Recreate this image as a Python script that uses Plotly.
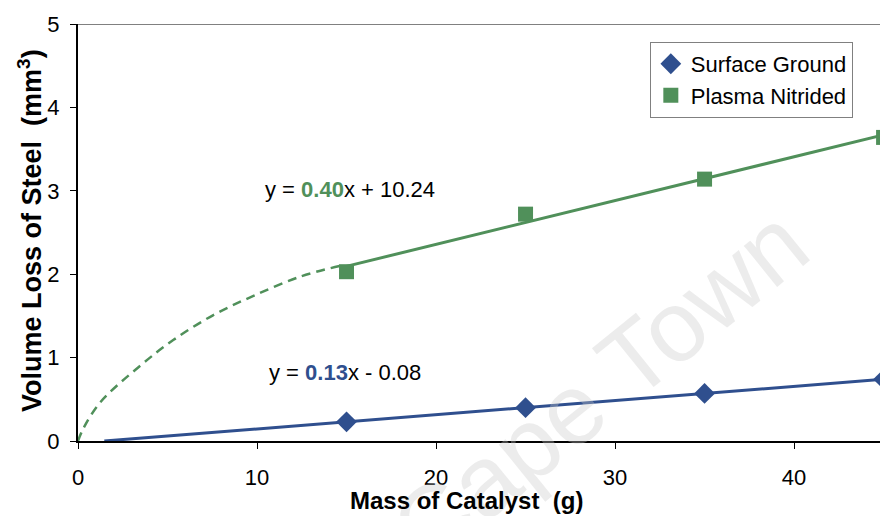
import numpy as np
import plotly.graph_objects as go

# Measured wear data
mass_g = [15, 25, 35, 45]
surface_ground = [0.23, 0.40, 0.57, 0.74]
plasma_nitrided = [2.03, 2.72, 3.14, 3.64]

# Hand-sketched extrapolation of the nitrided curve toward the origin
extrap_x = [0, 0.3, 1.23, 3.46, 5.32, 7.56, 9.8, 12.4, 14.64]
extrap_y = [0, 0.15, 0.46, 0.90, 1.21, 1.51, 1.74, 1.97, 2.10]

x_ticks = [0, 10, 20, 30, 40]
y_ticks = [0, 1, 2, 3, 4, 5]

GREEN = "#50905A"
BLUE = "#2F4F8E"
FONT = "Arial, Liberation Sans, sans-serif"

# Linear trend lines
g_slope, g_int = np.polyfit(mass_g, plasma_nitrided, 1)
b_slope, b_int = np.polyfit(mass_g, surface_ground, 1)
g_x = np.array([extrap_x[-1], mass_g[-1]])
b_x = np.array([-b_int / b_slope, mass_g[-1]])

fig = go.Figure()

fig.add_trace(go.Scatter(x=extrap_x, y=extrap_y, mode="lines",
                         line=dict(color=GREEN, width=2.5, dash="9px,6px", shape="spline", smoothing=1.0),
                         showlegend=False, hoverinfo="skip"))
fig.add_trace(go.Scatter(x=g_x, y=g_slope * g_x + g_int, mode="lines",
                         line=dict(color=GREEN, width=3), showlegend=False, hoverinfo="skip"))
fig.add_trace(go.Scatter(x=b_x, y=b_slope * b_x + b_int, mode="lines",
                         line=dict(color=BLUE, width=3), showlegend=False, hoverinfo="skip"))

fig.add_trace(go.Scatter(x=mass_g, y=surface_ground, mode="markers", name="Surface Ground",
                         marker=dict(symbol="diamond", size=16, color=BLUE)))
fig.add_trace(go.Scatter(x=mass_g, y=plasma_nitrided, mode="markers", name="Plasma Nitrided",
                         marker=dict(symbol="square", size=15, color=GREEN)))

fig.add_shape(type="line", xref="paper", x0=0, x1=1, yref="y", y0=5, y1=5,
              line=dict(color="#808080", width=2))

annotations = [
    dict(text="Cape Town", x=0.65, y=0.132, xref="paper", yref="paper",
         xanchor="center", yanchor="middle", textangle=-39, showarrow=False,
         font=dict(size=100, color="rgba(200,200,200,0.35)", family=FONT)),
    dict(text=f"y = <b><span style='color:{GREEN}'>0.40</span></b>x + 10.24",
         x=10.34, y=3.01, xref="x", yref="y", xanchor="left", yanchor="middle",
         showarrow=False, font=dict(size=22, color="black", family=FONT)),
    dict(text=f"y = <b><span style='color:{BLUE}'>0.13</span></b>x - 0.08",
         x=10.56, y=0.82, xref="x", yref="y", xanchor="left", yanchor="middle",
         showarrow=False, font=dict(size=22, color="black", family=FONT)),
    dict(text="<b>Mass of Catalyst\u00a0\u00a0(g)</b>", x=0.484, y=-0.1415,
         xref="paper", yref="paper", xanchor="center", yanchor="middle",
         showarrow=False, font=dict(size=24, color="black", family=FONT)),
    dict(text="<b>Volume Loss of Steel\u00a0\u00a0(mm<sup>3</sup>)</b>", x=-0.0599, y=0.506,
         xref="paper", yref="paper", xanchor="center", yanchor="middle", textangle=-90,
         showarrow=False, font=dict(size=27, color="black", family=FONT)),
]

fig.update_layout(
    width=880, height=516,
    margin=dict(l=78, r=0, t=24, b=75),
    plot_bgcolor="white", paper_bgcolor="white",
    font=dict(family=FONT, color="black"),
    annotations=annotations,
    legend=dict(x=0.713, y=0.957, xanchor="left", yanchor="top",
                bgcolor="white", bordercolor="#808080", borderwidth=1,
                font=dict(size=22, family=FONT, color="black"),
                itemwidth=30, tracegroupgap=0),
    xaxis=dict(range=[0, 44.8], tickvals=x_ticks, ticks="outside", ticklen=6,
               tickcolor="black", showline=True, linecolor="black", linewidth=2,
               showgrid=False, zeroline=False, tickfont=dict(size=22, family=FONT),
               ticklabelstandoff=10),
    yaxis=dict(range=[0, 5], tickvals=y_ticks, ticks="outside", ticklen=6,
               tickcolor="black", showline=True, linecolor="black", linewidth=2,
               showgrid=False, zeroline=False, tickfont=dict(size=22, family=FONT),
               ticklabelstandoff=6),
)

fig.write_html("out.html")
